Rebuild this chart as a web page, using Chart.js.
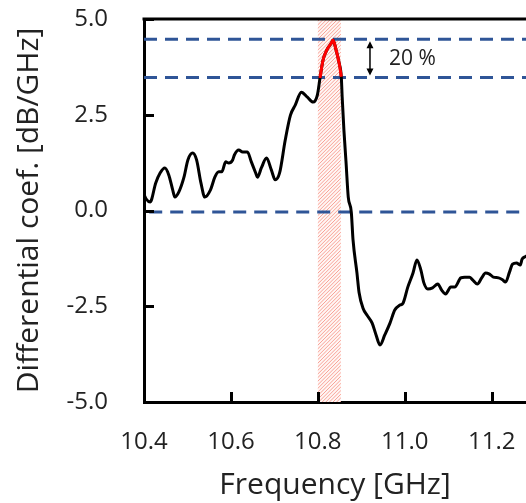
<!DOCTYPE html>
<html>
<head>
<meta charset="utf-8">
<script src="https://cdn.jsdelivr.net/npm/chart.js@4/dist/chart.umd.min.js"></script>
<style>
  html, body { margin: 0; padding: 0; background: #fff; }
  #wrap { width: 526px; height: 503px; }
</style>
</head>
<body>
<div id="wrap"><canvas id="c" width="526" height="503"></canvas></div>
<script>
// ---- data ----
const freq = [10.400,10.405,10.414,10.427,10.437,10.448,10.457,10.466,10.471,10.480,10.492,10.501,10.512,10.521,10.531,10.540,10.553,10.563,10.572,10.579,10.588,10.595,10.604,10.608,10.618,10.627,10.638,10.647,10.657,10.661,10.670,10.682,10.693,10.702,10.712,10.725,10.737,10.748,10.762,10.776,10.789,10.799,10.805,10.812,10.822,10.831,10.835,10.842,10.849,10.854,10.856,10.860,10.865,10.870,10.877,10.881,10.890,10.895,10.904,10.913,10.925,10.934,10.943,10.954,10.966,10.977,10.989,10.996,11.007,11.019,11.028,11.037,11.044,11.053,11.064,11.076,11.085,11.094,11.106,11.115,11.129,11.138,11.149,11.156,11.167,11.177,11.186,11.195,11.204,11.216,11.225,11.232,11.241,11.248,11.257,11.266,11.270,11.277,11.285];
const coef = [0.42,0.30,0.22,0.72,0.98,1.11,0.93,0.54,0.35,0.48,0.87,1.32,1.50,1.32,0.72,0.35,0.54,0.87,1.01,1.01,1.27,1.24,1.32,1.45,1.58,1.53,1.53,1.27,0.98,0.87,1.11,1.37,1.06,0.80,0.98,1.84,2.49,2.75,3.09,2.96,2.83,3.02,3.46,3.93,4.22,4.37,4.45,4.19,3.85,3.49,2.96,2.10,1.24,0.35,-0.04,-0.77,-1.63,-2.15,-2.55,-2.73,-2.94,-3.25,-3.51,-3.25,-2.94,-2.60,-2.47,-2.42,-2.00,-1.63,-1.29,-1.55,-1.89,-2.05,-2.02,-1.92,-2.08,-2.18,-2.00,-2.00,-1.76,-1.74,-1.74,-1.81,-1.92,-1.76,-1.63,-1.66,-1.74,-1.76,-1.81,-1.87,-1.61,-1.40,-1.37,-1.42,-1.27,-1.21,-1.15];
const peakFreq = [10.805,10.812,10.822,10.831,10.835,10.842,10.849,10.854];
const peakCoef = [3.46,3.93,4.22,4.37,4.45,4.19,3.85,3.49];
const levelUpper = 4.47;
const levelLower = 3.47;
const levelZero = -0.04;
const bandStart = 10.800;
const bandEnd = 10.853;
const arrowFreq = 10.920;
const noteFreq = 10.964;
const noteCoef = 3.95;
const noteText = '20 %';
const xMin = 10.4, xMax = 11.279, xStep = 0.2;
const yMin = -5, yMax = 5, yStep = 2.5;
const xTitle = 'Frequency [GHz]';
const yTitle = 'Differential coef. [dB/GHz]';

const FONT = "'Open Sans', 'Noto Sans', sans-serif";
const TXT = '#222';
const DASH = '#2F5597';

const pts = (xs, ys) => xs.map((x, i) => ({x, y: ys[i]}));
const hline = (y, x0) => [{x: x0, y}, {x: xMax + 0.05, y}];

const ctx = document.getElementById('c').getContext('2d');

const decor = {
  id: 'decor',
  beforeDatasetsDraw(chart) {
    const {ctx, chartArea: a, scales: {x}} = chart;
    const x0 = x.getPixelForValue(bandStart), x1 = x.getPixelForValue(bandEnd);
    const h = a.bottom - a.top;
    ctx.save();
    ctx.beginPath();
    ctx.rect(x0, a.top, x1 - x0, h);
    ctx.clip();
    ctx.fillStyle = 'rgb(255,246,244)';
    ctx.fillRect(x0, a.top, x1 - x0, h);
    ctx.strokeStyle = 'rgb(248,162,150)';
    ctx.lineWidth = 1;
    ctx.beginPath();
    for (let s = x0 - 5; s < x1 + h + 5; s += 3.6) {
      ctx.moveTo(s, a.top);
      ctx.lineTo(s - h, a.bottom);
    }
    ctx.stroke();
    ctx.restore();
  },
  afterDatasetsDraw(chart) {
    const {ctx, chartArea: a, scales: {x, y}} = chart;
    ctx.save();
    // top frame line
    ctx.strokeStyle = '#000';
    ctx.lineWidth = 3;
    ctx.beginPath();
    ctx.moveTo(a.left - 1.5, a.top);
    ctx.lineTo(a.right + 2, a.top);
    ctx.stroke();
    // inward tick marks
    const TL = 10;
    ctx.beginPath();
    y.ticks.forEach(t => {
      const py = Math.round(y.getPixelForValue(t.value)) + 0.5;
      ctx.moveTo(a.left, py); ctx.lineTo(a.left + TL, py);
    });
    x.ticks.forEach(t => {
      const px = Math.round(x.getPixelForValue(t.value)) + 0.5;
      ctx.moveTo(px, a.bottom); ctx.lineTo(px, a.bottom - TL);
    });
    ctx.stroke();
    // double arrow
    const ax = x.getPixelForValue(arrowFreq);
    const yt = y.getPixelForValue(levelUpper) + 2, yb = y.getPixelForValue(levelLower) - 2;
    ctx.lineWidth = 1.5;
    ctx.beginPath();
    ctx.moveTo(ax, yt + 4); ctx.lineTo(ax, yb - 4);
    ctx.stroke();
    ctx.fillStyle = '#000';
    ctx.beginPath();
    ctx.moveTo(ax, yt); ctx.lineTo(ax - 3.5, yt + 7); ctx.lineTo(ax + 3.5, yt + 7); ctx.closePath();
    ctx.moveTo(ax, yb); ctx.lineTo(ax - 3.5, yb - 7); ctx.lineTo(ax + 3.5, yb - 7); ctx.closePath();
    ctx.fill();
    // note
    ctx.fillStyle = TXT;
    ctx.font = "21px " + FONT;
    ctx.textAlign = 'left';
    ctx.textBaseline = 'middle';
    ctx.fillText(noteText, x.getPixelForValue(noteFreq), y.getPixelForValue(noteCoef));
    ctx.restore();
  }
};

const lineDs = (data, color, order, extra) => Object.assign({
  data, showLine: true, borderColor: color, backgroundColor: color,
  borderWidth: 3, pointRadius: 0, fill: false, order
}, extra || {});

new Chart(ctx, {
  type: 'scatter',
  data: {
    datasets: [
      lineDs(pts(peakFreq, peakCoef), '#ff0000', 0, {cubicInterpolationMode: 'monotone'}),
      lineDs(pts(freq, coef), '#000000', 1, {cubicInterpolationMode: 'monotone'}),
      lineDs(hline(levelUpper, xMin), DASH, 2, {borderDash: [13, 8]}),
      lineDs(hline(levelLower, xMin), DASH, 2, {borderDash: [13, 8]}),
      lineDs(hline(levelZero, xMin + 0.012), DASH, 2, {borderDash: [13, 8]})
    ]
  },
  options: {
    responsive: false,
    animation: false,
    devicePixelRatio: 1,
    layout: {padding: {top: 19, right: 0, left: 0, bottom: 0}},
    plugins: {legend: {display: false}, tooltip: {enabled: false}},
    scales: {
      x: {
        type: 'linear', min: xMin, max: xMax,
        afterFit(s) { s.height = 101; s.paddingLeft = 0; s.paddingRight = 0; },
        grid: {display: false, drawTicks: false},
        border: {display: true, color: '#000', width: 3},
        ticks: {
          stepSize: xStep, includeBounds: false, autoSkip: false, maxRotation: 0,
          padding: 26, color: TXT, font: {family: FONT, size: 24},
          callback: v => Number(v).toFixed(1)
        },
        title: {display: true, text: xTitle, color: TXT, font: {family: FONT, size: 30}, padding: {top: 0, bottom: 0}}
      },
      y: {
        type: 'linear', min: yMin, max: yMax,
        afterFit(s) { s.width = 144; s.paddingTop = 0; s.paddingBottom = 0; },
        grid: {display: false, drawTicks: false},
        border: {display: true, color: '#000', width: 3},
        ticks: {
          stepSize: yStep, includeBounds: false, autoSkip: false,
          padding: 36, color: TXT, font: {family: FONT, size: 24},
          callback: v => Number(v).toFixed(1)
        },
        title: {display: true, text: yTitle, color: TXT, font: {family: FONT, size: 30}, padding: {top: 11, bottom: 0}}
      }
    }
  },
  plugins: [decor]
});
</script>
</body>
</html>
